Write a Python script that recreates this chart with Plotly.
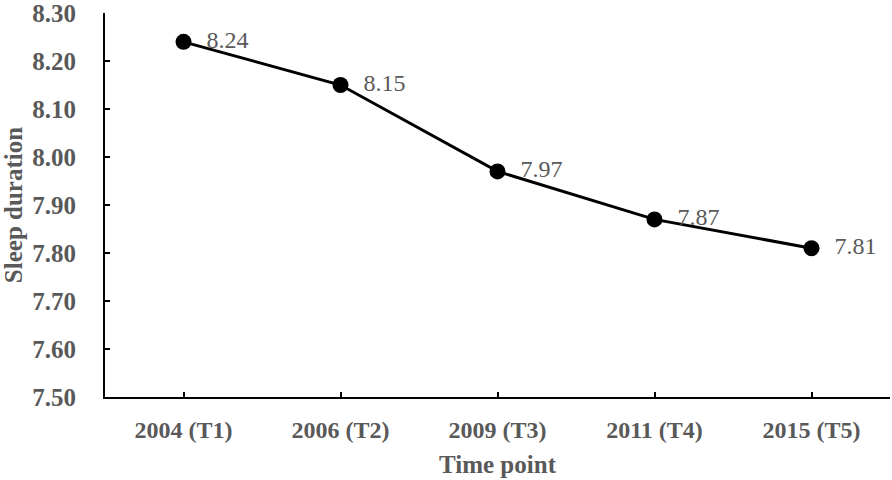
import plotly.graph_objects as go

# sleep duration at each wave
time_points = ["2004 (T1)", "2006 (T2)", "2009 (T3)", "2011 (T4)", "2015 (T5)"]
sleep_duration = [8.24, 8.15, 7.97, 7.87, 7.81]
y_ticks = [7.50, 7.60, 7.70, 7.80, 7.90, 8.00, 8.10, 8.20, 8.30]

grey = "#595959"
serif = "Liberation Serif, Times New Roman, serif"

fig = go.Figure()
fig.add_trace(
    go.Scatter(
        x=time_points,
        y=sleep_duration,
        mode="lines+markers+text",
        line=dict(color="black", width=3),
        marker=dict(color="black", size=16),
        # leading spaces push the labels off the markers like in Excel
        text=[f"  {v:.2f}" for v in sleep_duration],
        textposition="middle right",
        textfont=dict(family=serif, size=24, color=grey),
        cliponaxis=False,
    )
)

fig.update_layout(
    width=892,
    height=480,
    margin=dict(l=105, r=2, t=13, b=83),
    paper_bgcolor="white",
    plot_bgcolor="white",
    showlegend=False,
    font=dict(family=serif, color=grey),
    xaxis=dict(
        type="category",
        range=[-0.5, 4.5],
        automargin=False,
        showline=True,
        linecolor="black",
        linewidth=2,
        ticks="inside",
        ticklen=5,
        tickwidth=1.5,
        tickcolor="black",
        showgrid=False,
        zeroline=False,
        tickfont=dict(family=serif, size=24, color=grey, weight="bold"),
        ticklabelstandoff=10,
        title=dict(text="<b>Time point</b>", font=dict(family=serif, size=25, color=grey), standoff=14),
    ),
    yaxis=dict(
        range=[7.4999, 8.3001],
        tickvals=y_ticks,
        tickformat=".2f",
        automargin=False,
        ticklabeloverflow="allow",
        showline=True,
        linecolor="black",
        linewidth=2,
        ticks="inside",
        ticklen=5,
        tickwidth=1.5,
        tickcolor="black",
        showgrid=False,
        zeroline=False,
        tickfont=dict(family=serif, size=25, color=grey, weight="bold"),
        ticklabelstandoff=22,
        title=dict(text="<b>Sleep duration</b>", font=dict(family=serif, size=25, color=grey), standoff=10),
    ),
)

# drop the browser's default body margin so the figure sits at the corner
fig.write_html(
    "out.html",
    config={"displayModeBar": False},
    post_script="document.body.style.margin='0';",
)
